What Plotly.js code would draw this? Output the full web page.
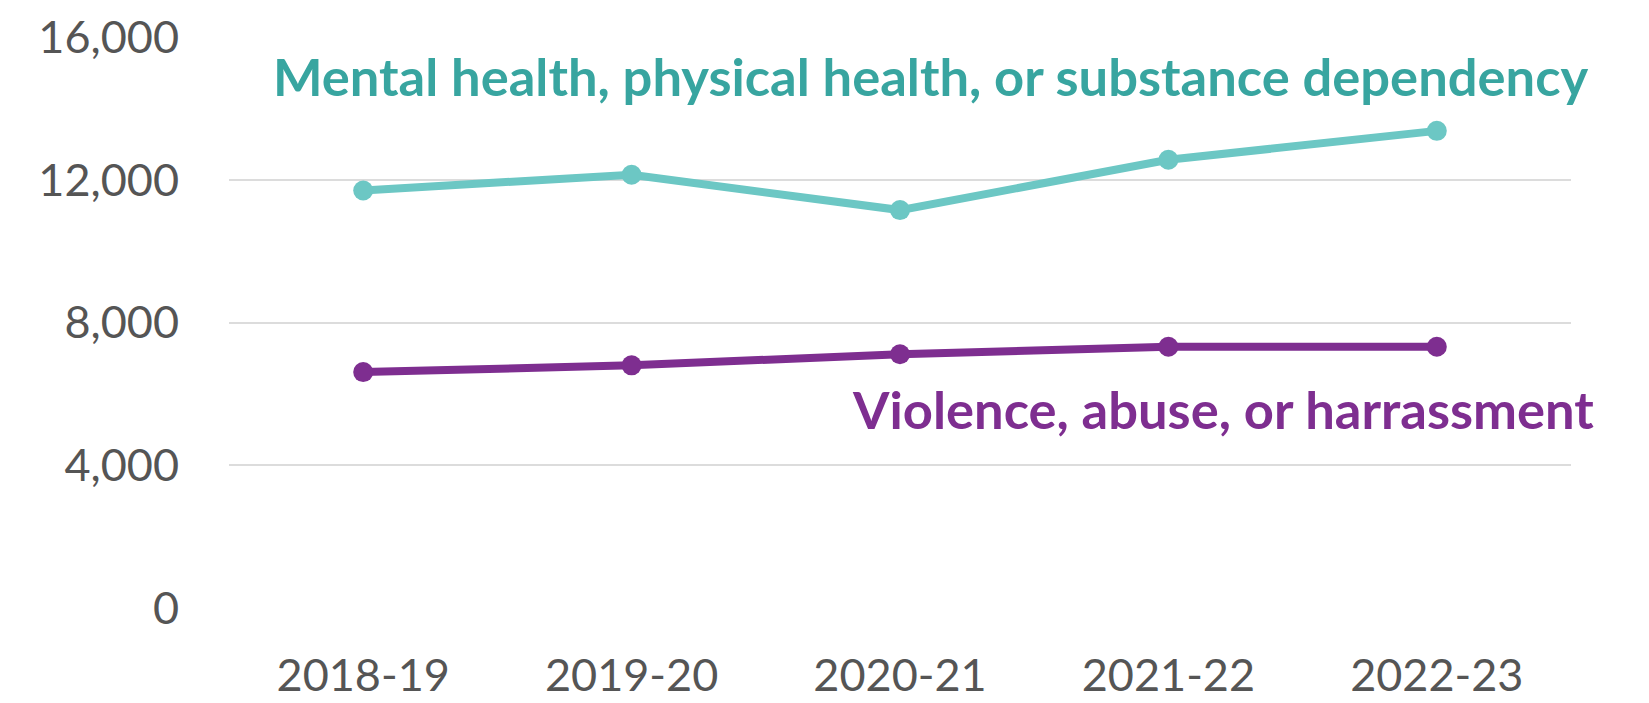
<!DOCTYPE html>
<html>
<head>
<meta charset="utf-8">
<script src="https://cdn.plot.ly/plotly-3.0.1.min.js"></script>
<style>
html,body{margin:0;padding:0;background:#fff;}
#chart{width:1649px;height:703px;}
</style>
</head>
<body>
<div id="chart"></div>
<script>
const years = ["2018-19", "2019-20", "2020-21", "2021-22", "2022-23"];
const healthValues = [11700, 12140, 11150, 12560, 13370];
const violenceValues = [6610, 6800, 7110, 7320, 7320];
const healthLabel = "Mental health, physical health, or substance dependency";
const violenceLabel = "Violence, abuse, or harrassment";
const yTicks = [0, 4000, 8000, 12000, 16000];

const traces = [
  {
    x: years, y: healthValues, type: "scatter", mode: "lines+markers",
    line: {color: "#6cc7c4", width: 8}, marker: {color: "#6cc7c4", size: 20},
    name: healthLabel, hoverinfo: "skip"
  },
  {
    x: years, y: violenceValues, type: "scatter", mode: "lines+markers",
    line: {color: "#7e2e90", width: 8}, marker: {color: "#7e2e90", size: 20},
    name: violenceLabel, hoverinfo: "skip"
  }
];

const layout = {
  width: 1649, height: 703,
  margin: {l: 229, r: 78, t: 37, b: 95},
  paper_bgcolor: "#ffffff", plot_bgcolor: "#ffffff",
  showlegend: false,
  font: {family: "Lato, 'Noto Sans', sans-serif", color: "#555555"},
  xaxis: {
    type: "category", range: [-0.5, 4.5],
    showgrid: false, zeroline: false, showline: false, ticks: "",
    tickfont: {size: 45, color: "#555555"}, ticklabelstandoff: 37
  },
  yaxis: {
    range: [0, 16000], tickvals: yTicks, ticktext: yTicks.map(v => v.toLocaleString("en-US")),
    showgrid: true, gridcolor: "#dcdcdc", gridwidth: 2,
    zeroline: false, showline: false, ticks: "",
    tickfont: {size: 45, color: "#555555"}, ticklabelstandoff: 49
  },
  annotations: [
    {
      text: "<b>" + healthLabel + "</b>", xref: "paper", yref: "paper",
      x: 1.014, y: 0.932, xanchor: "right", yanchor: "middle", showarrow: false,
      font: {size: 52.5, color: "#38a5a0", family: "Lato, 'Noto Sans', sans-serif"}
    },
    {
      text: "<b>" + violenceLabel + "</b>", xref: "paper", yref: "paper",
      x: 1.019, y: 0.350, xanchor: "right", yanchor: "middle", showarrow: false,
      font: {size: 52.5, color: "#7e2e90", family: "Lato, 'Noto Sans', sans-serif"}
    }
  ]
};

Plotly.newPlot("chart", traces, layout, {displayModeBar: false, staticPlot: true});
</script>
</body>
</html>
